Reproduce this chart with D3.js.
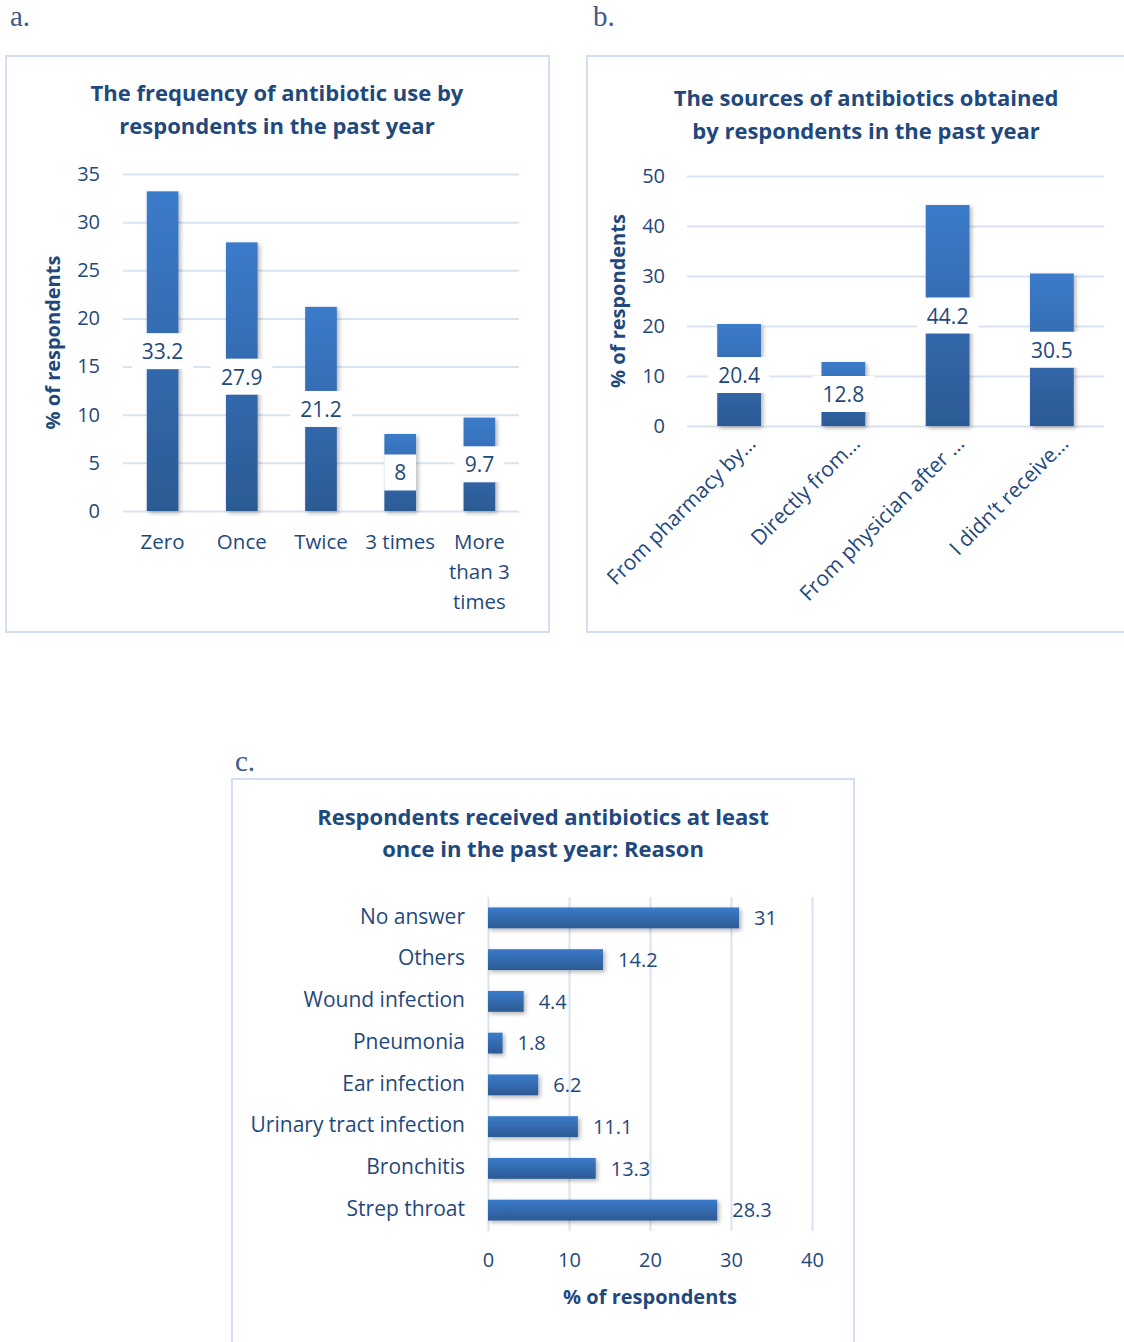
<!DOCTYPE html>
<html>
<head>
<meta charset="utf-8">
<script src="https://cdn.jsdelivr.net/npm/d3@7"></script>
<style>
  body { margin: 0; background: #fff; }
  text { font-family: "Open Sans", sans-serif; fill: #1f497d; }
</style>
</head>
<body>
<svg id="chart"></svg>
<script>
// panel a
const freqCats = ['Zero', 'Once', 'Twice', '3 times', 'More than 3 times'];
const freqLines = [['Zero'], ['Once'], ['Twice'], ['3 times'], ['More', 'than 3', 'times']];
const freqValues = [33.2, 27.9, 21.2, 8, 9.7];
const freqTicks = [0, 5, 10, 15, 20, 25, 30, 35];

// panel b
const sourceCats = ['From pharmacy by…', 'Directly from…', 'From physician after …', 'I didn’t receive…'];
const sourceValues = [20.4, 12.8, 44.2, 30.5];
const sourceTicks = [0, 10, 20, 30, 40, 50];

// panel c
const reasonCats = ['No answer', 'Others', 'Wound infection', 'Pneumonia', 'Ear infection',
  'Urinary tract infection', 'Bronchitis', 'Strep throat'];
const reasonValues = [31, 14.2, 4.4, 1.8, 6.2, 11.1, 13.3, 28.3];
const reasonTicks = [0, 10, 20, 30, 40];

const ink = '#1f497d';
const gridColor = '#d9e3f1';
const frameColor = '#d3dff0';

const svg = d3.select('#chart').attr('width', 1124).attr('height', 1342);

const defs = svg.append('defs');
const gradV = defs.append('linearGradient').attr('id', 'gradV')
  .attr('x1', 0).attr('y1', 0).attr('x2', 0).attr('y2', 1);
gradV.append('stop').attr('offset', '0%').attr('stop-color', '#3b7bca');
gradV.append('stop').attr('offset', '100%').attr('stop-color', '#2c5a94');
const shadow = defs.append('filter').attr('id', 'shadow')
  .attr('x', '-20%').attr('y', '-20%').attr('width', '150%').attr('height', '150%');
shadow.append('feDropShadow').attr('dx', 2).attr('dy', 2).attr('stdDeviation', 2)
  .attr('flood-color', '#000').attr('flood-opacity', 0.3);

function frame(x, y, w, h, letter, lx, ly) {
  svg.append('rect').attr('x', x).attr('y', y).attr('width', w).attr('height', h)
    .attr('fill', 'none').attr('stroke', frameColor).attr('stroke-width', 2);
  svg.append('text').attr('x', lx).attr('y', ly)
    .style('font-family', '"Liberation Serif", serif').style('font-size', '29px')
    .style('fill', '#3d5a8a').text(letter);
}

function title(lines, cx, y0, lh) {
  lines.forEach((t, i) => {
    svg.append('text').attr('x', cx).attr('y', y0 + i * lh)
      .attr('text-anchor', 'middle').attr('dominant-baseline', 'middle')
      .style('font-size', '22px').style('font-weight', 700).text(t);
  });
}

function styleAxis(g) {
  g.select('.domain').remove();
  g.selectAll('.tick line').attr('stroke', gridColor).attr('stroke-width', 2);
  g.selectAll('.tick text').style('font-size', '20px').style('fill', ink);
}

// column chart with value labels centred in the bar
function columns(opt) {
  const x = d3.scaleBand().domain(opt.cats).range([opt.left, opt.right])
    .paddingInner(opt.pad).paddingOuter(opt.pad / 2);
  const y = d3.scaleLinear().domain(opt.domain).range([opt.bottom, opt.top]);

  const gy = svg.append('g').attr('transform', `translate(${opt.left},0)`)
    .call(d3.axisLeft(y).tickValues(opt.ticks).tickSize(-(opt.right - opt.left)).tickPadding(opt.tickPad));
  styleAxis(gy);

  svg.append('g').selectAll('rect').data(opt.values).enter().append('rect')
    .attr('x', (d, i) => x(opt.cats[i]))
    .attr('y', d => y(d))
    .attr('width', x.bandwidth())
    .attr('height', d => y(0) - y(d))
    .attr('fill', 'url(#gradV)')
    .attr('filter', 'url(#shadow)');

  const lab = svg.append('g').selectAll('g').data(opt.values).enter().append('g')
    .attr('transform', (d, i) => `translate(${x(opt.cats[i]) + x.bandwidth() / 2},${y(d / 2)})`);
  lab.append('text').attr('text-anchor', 'middle').attr('dominant-baseline', 'central')
    .style('font-size', '21px').text(d => d);
  lab.each(function () {
    const bb = this.querySelector('text').getBBox();
    d3.select(this).insert('rect', 'text')
      .attr('x', bb.x - 10).attr('y', -18).attr('width', bb.width + 20).attr('height', 36)
      .attr('fill', '#fff');
  });

  svg.append('text')
    .attr('transform', `translate(${opt.axisX},${(opt.top + opt.bottom) / 2}) rotate(-90)`)
    .attr('text-anchor', 'middle').attr('dominant-baseline', 'middle')
    .style('font-size', '20px').style('font-weight', 700).text('% of respondents');
  return x;
}

// ---- a
frame(6, 56, 543, 576, 'a.', 10, 26);
title(['The frequency of antibiotic use by', 'respondents in the past year'], 277, 95, 33);
const xa = columns({
  cats: freqCats, values: freqValues, domain: [0, 35], ticks: freqTicks,
  left: 123, right: 519, top: 174, bottom: 511, pad: 0.6, tickPad: 23, axisX: 55
});
freqLines.forEach((lines, i) => {
  lines.forEach((t, j) => {
    svg.append('text').attr('x', xa(freqCats[i]) + xa.bandwidth() / 2).attr('y', 544 + j * 30)
      .attr('text-anchor', 'middle').attr('dominant-baseline', 'middle')
      .style('font-size', '20.5px').text(t);
  });
});

// ---- b
frame(587, 56, 560, 576, 'b.', 593, 26);
title(['The sources of antibiotics obtained', 'by respondents in the past year'], 866, 100, 33);
const xb = columns({
  cats: sourceCats, values: sourceValues, domain: [0, 50], ticks: sourceTicks,
  left: 687, right: 1104, top: 176, bottom: 426, pad: 0.58, tickPad: 22, axisX: 620
});
sourceCats.forEach((t, i) => {
  svg.append('text')
    .attr('transform', `translate(${xb(t) + xb.bandwidth() / 2 + 14},${441}) rotate(-45)`)
    .attr('text-anchor', 'end').attr('dominant-baseline', 'middle')
    .style('font-size', '21px').text(t);
});

// ---- c
frame(232, 779, 622, 580, 'c.', 235, 771);
title(['Respondents received antibiotics at least', 'once in the past year: Reason'], 543, 819, 32);

const xc = d3.scaleLinear().domain([0, 40]).range([488, 812]);
const yc = d3.scaleBand().domain(reasonCats).range([897, 1231]).paddingInner(0.5).paddingOuter(0.25);

const gx = svg.append('g').attr('transform', 'translate(0,1231)')
  .call(d3.axisBottom(xc).tickValues(reasonTicks).tickSize(-334).tickPadding(22));
styleAxis(gx);

svg.append('g').selectAll('rect').data(reasonValues).enter().append('rect')
  .attr('x', xc(0))
  .attr('y', (d, i) => yc(reasonCats[i]))
  .attr('width', d => xc(d) - xc(0))
  .attr('height', yc.bandwidth())
  .attr('fill', 'url(#gradV)')
  .attr('filter', 'url(#shadow)');

svg.append('g').selectAll('text').data(reasonValues).enter().append('text')
  .attr('x', d => xc(d) + 15)
  .attr('y', (d, i) => yc(reasonCats[i]) + yc.bandwidth() / 2 + 2)
  .attr('dominant-baseline', 'middle')
  .style('font-size', '20px').text(d => d);

svg.append('g').selectAll('text').data(reasonCats).enter().append('text')
  .attr('x', 465)
  .attr('y', d => yc(d) + yc.bandwidth() / 2)
  .attr('text-anchor', 'end').attr('dominant-baseline', 'middle')
  .style('font-size', '21px').text(d => d);

svg.append('text').attr('x', 650).attr('y', 1299)
  .attr('text-anchor', 'middle').attr('dominant-baseline', 'middle')
  .style('font-size', '20px').style('font-weight', 700).text('% of respondents');
</script>
</body>
</html>
